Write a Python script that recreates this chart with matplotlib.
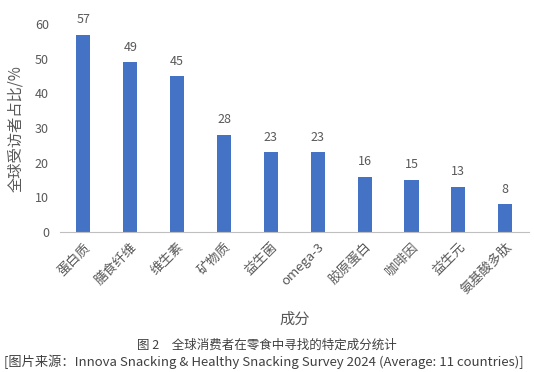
import matplotlib
matplotlib.use("Agg")
import matplotlib.pyplot as plt

plt.rcParams['font.family'] = ['Noto Sans CJK SC', 'DejaVu Sans']

categories = ["蛋白质", "膳食纤维", "维生素", "矿物质", "益生菌", "omega-3", "胶原蛋白", "咖啡因", "益生元", "氨基酸多肽"]
values = [57, 49, 45, 28, 23, 23, 16, 15, 13, 8]
yticks = [0, 10, 20, 30, 40, 50, 60]

bar_color = "#4472C4"
gray = "#595959"

fig = plt.figure(figsize=(5.34, 3.72), dpi=100)
ax = fig.add_axes([0.1124, 0.376, 0.8876 - 0.01, 0.559])
x = list(range(len(categories)))
bars = ax.bar(x, values, width=0.3, color=bar_color)
for xi, v in zip(x, values):
    ax.text(xi, v + 2.5, str(v), ha='center', va='bottom', fontsize=9, color=gray, clip_on=False)

ax.set_xlim(-0.5, len(categories) - 0.5)
ax.set_ylim(0, 60)
ax.set_yticks(yticks)
ax.set_yticklabels([str(t) for t in yticks], fontsize=9, color=gray)
ax.set_xticks(x)
ax.set_xticklabels(categories, rotation=45, ha='right', rotation_mode='anchor', fontsize=9.5, color=gray)
ax.tick_params(axis='both', length=0, pad=6)
ax.tick_params(axis='y', pad=8)
for s in ['top', 'right', 'left']:
    ax.spines[s].set_visible(False)
ax.spines['bottom'].set_color('#BFBFBF')
ax.set_ylabel("全球受访者占比/%", fontsize=11, color=gray, labelpad=8)
ax.set_xlabel("成分", fontsize=11, color=gray, labelpad=10)

fig.text(267 / 534, 1 - 345 / 372, "图 2　全球消费者在零食中寻找的特定成分统计", ha='center', va='center', fontsize=9, color='#404040')
fig.text(4 / 534, 1 - 362 / 372, "[图片来源：Innova Snacking & Healthy Snacking Survey 2024 (Average: 11 countries)]", ha='left', va='center', fontsize=9.5, color='#404040')

fig.savefig("out.png", dpi=100, facecolor='white')
